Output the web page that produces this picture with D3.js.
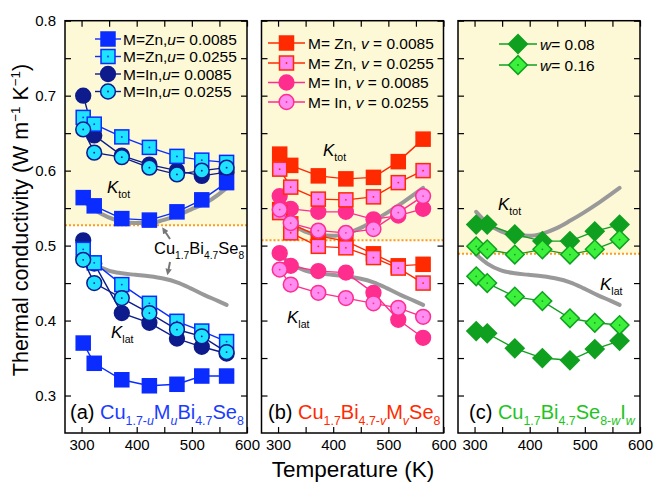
<!DOCTYPE html>
<html>
<head>
<meta charset="utf-8">
<script src="https://cdn.jsdelivr.net/npm/d3@7"></script>
<style>
  body { margin: 0; background: #fff; }
  svg text { font-family: "Liberation Sans", Arial, sans-serif; }
</style>
</head>
<body>
<svg id="chart" width="654" height="482"></svg>
<script>
// temperatures (K)
const T = [303, 323, 373, 423, 473, 518, 563];

// panel (a) Cu1.7-uMuBi4.7Se8
const aZn1Tot = [0.564, 0.553, 0.536, 0.534, 0.545, 0.561, 0.584];
const aZn2Tot = [0.671, 0.662, 0.645, 0.631, 0.619, 0.614, 0.611];
const aIn1Tot = [0.700, 0.647, 0.620, 0.608, 0.600, 0.593, 0.598];
const aIn2Tot = [0.655, 0.624, 0.618, 0.604, 0.595, 0.600, 0.604];
const aZn1Lat = [0.370, 0.343, 0.321, 0.313, 0.315, 0.326, 0.326];
const aZn2Lat = [0.495, 0.477, 0.448, 0.423, 0.399, 0.386, 0.372];
const aIn1Lat = [0.507, 0.476, 0.410, 0.397, 0.376, 0.365, 0.356];
const aIn2Lat = [0.481, 0.450, 0.430, 0.410, 0.388, 0.379, 0.358];

// panel (b) Cu1.7Bi4.7-vMvSe8
const bZn1Tot = [0.622, 0.607, 0.593, 0.589, 0.591, 0.612, 0.642];
const bZn2Tot = [0.602, 0.578, 0.562, 0.561, 0.565, 0.584, 0.600];
const bIn1Tot = [0.566, 0.549, 0.545, 0.545, 0.535, 0.540, 0.549];
const bIn2Tot = [0.548, 0.530, 0.520, 0.517, 0.522, 0.544, 0.566];
const bZn1Lat = [0.548, 0.529, 0.513, 0.506, 0.489, 0.473, 0.475];
const bZn2Lat = [0.544, 0.517, 0.499, 0.497, 0.484, 0.470, 0.450];
const bIn1Lat = [0.490, 0.473, 0.466, 0.464, 0.437, 0.401, 0.377];
const bIn2Lat = [0.468, 0.448, 0.437, 0.430, 0.423, 0.417, 0.405];

// panel (c) Cu1.7Bi4.7Se8-wIw
const cW1Tot = [0.528, 0.528, 0.515, 0.506, 0.506, 0.519, 0.528];
const cW2Tot = [0.499, 0.495, 0.488, 0.495, 0.488, 0.495, 0.508];
const cW1Lat = [0.386, 0.383, 0.363, 0.350, 0.347, 0.362, 0.373];
const cW2Lat = [0.459, 0.450, 0.432, 0.426, 0.403, 0.397, 0.394];

// pristine Cu1.7Bi4.7Se8 reference curves
const refT = [303, 323, 348, 373, 398, 423, 448, 473, 498, 523, 548, 563];
const refTotA = [0.560, 0.548, 0.538, 0.532, 0.530, 0.530, 0.534, 0.540, 0.548, 0.556, 0.568, 0.577];
const refTot = [0.545, 0.530, 0.519, 0.514, 0.513, 0.516, 0.523, 0.533, 0.544, 0.556, 0.569, 0.577];
const refLat = [0.488, 0.476, 0.467, 0.463, 0.461, 0.459, 0.456, 0.451, 0.443, 0.434, 0.426, 0.421];

// horizontal dotted divider per panel
const cutLevels = [0.527, 0.507, 0.489];

const svg = d3.select("#chart");
const plotTop = 20.7, plotBottom = 433, panelW = 182;
const panelX = [65, 261.5, 458];

const y = d3.scaleLinear().domain([0.25, 0.8]).range([plotBottom, plotTop]);
const yTicks = d3.range(0.3, 0.801, 0.05).map(v => +v.toFixed(2));
const xTicks = d3.range(300, 601, 50);

const sty = {
  zn1a: {shape: "sq", fill: "#0a2cff", stroke: "#0a2cff", line: "#0a2cff"},
  zn2a: {shape: "sq", fill: "#1ee2ff", stroke: "#0a2cff", line: "#0a2cff", dot: true},
  in1a: {shape: "ci", fill: "#0d1b8c", stroke: "#0d1b8c", line: "#0d1b8c"},
  in2a: {shape: "ci", fill: "#1ee2ff", stroke: "#0d1b8c", line: "#0d1b8c", dot: true},
  zn1b: {shape: "sq", fill: "#ff2a00", stroke: "#ff2a00", line: "#ff2a00"},
  zn2b: {shape: "sq", fill: "#ff84f4", stroke: "#ff2a00", line: "#ff2a00", dot: true},
  in1b: {shape: "ci", fill: "#ff2d8e", stroke: "#ff2d8e", line: "#ff2d8e"},
  in2b: {shape: "ci", fill: "#ff8cf0", stroke: "#ff2d8e", line: "#ff2d8e", dot: true},
  w1: {shape: "di", fill: "#10a020", stroke: "#10a020", line: "#10a020"},
  w2: {shape: "di", fill: "#3cf03c", stroke: "#10a020", line: "#10a020", dot: true}
};

function marker(g, s, cx, cy) {
  if (s.shape === "sq") {
    g.append("rect").attr("x", cx - 7).attr("y", cy - 7).attr("width", 14).attr("height", 14)
      .attr("fill", s.fill).attr("stroke", s.stroke).attr("stroke-width", 1.5);
  } else if (s.shape === "ci") {
    g.append("circle").attr("cx", cx).attr("cy", cy).attr("r", 7.4)
      .attr("fill", s.fill).attr("stroke", s.stroke).attr("stroke-width", 1.5);
  } else {
    g.append("rect").attr("x", -6.6).attr("y", -6.6).attr("width", 13.2).attr("height", 13.2)
      .attr("transform", `translate(${cx},${cy}) rotate(45)`)
      .attr("fill", s.fill).attr("stroke", s.stroke).attr("stroke-width", 1.5);
  }
  if (s.dot) g.append("circle").attr("cx", cx).attr("cy", cy).attr("r", 0.9).attr("fill", s.stroke);
}

// text with sub/superscripts and italics: parts = [[text, "sub"|"sup"|"i"|"isub"|""], ...]
function rich(g, x, yb, parts, size, color, anchor) {
  const t = g.append("text").attr("x", x).attr("y", yb).attr("font-size", size)
    .attr("fill", color).attr("text-anchor", anchor || "start");
  let shift = 0;
  parts.forEach(([txt, k]) => {
    const ts = t.append("tspan").text(txt);
    let want = 0;
    if (k === "sub" || k === "isub") want = size * 0.3;
    if (k === "sup") want = -size * 0.38;
    ts.attr("dy", want - shift);
    shift = want;
    if (k === "sub" || k === "sup" || k === "isub") ts.attr("font-size", size * 0.62);
    if (k === "i" || k === "isub") ts.attr("font-style", "italic");
  });
  return t;
}

const panels = [
  {
    series: [
      [aIn1Tot, sty.in1a], [aIn1Lat, sty.in1a],
      [aZn1Tot, sty.zn1a], [aZn1Lat, sty.zn1a],
      [aZn2Tot, sty.zn2a], [aZn2Lat, sty.zn2a],
      [aIn2Tot, sty.in2a], [aIn2Lat, sty.in2a]
    ],
    refTot: refTotA,
    legend: {x1: 95, x2: 121, xt: 123, ys: [39, 56.5, 74, 91.5], size: 15.5,
      rows: [
        [sty.zn1a, [["M=Zn,", ""], ["u", "i"], ["= 0.0085", ""]]],
        [sty.zn2a, [["M=Zn,", ""], ["u", "i"], ["= 0.0255", ""]]],
        [sty.in1a, [["M=In,", ""], ["u", "i"], ["= 0.0085", ""]]],
        [sty.in2a, [["M=In,", ""], ["u", "i"], ["= 0.0255", ""]]]
      ]},
    ktot: [107, 193], klat: [111, 338],
    title: {x: 70, color: "#1a3cff", parts: [["Cu", ""], ["1.7-", "sub"], ["u", "isub"], ["M", ""], ["u", "isub"], ["Bi", ""], ["4.7", "sub"], ["Se", ""], ["8", "sub"]]}
  },
  {
    series: [
      [bZn1Tot, sty.zn1b], [bZn1Lat, sty.zn1b],
      [bIn1Tot, sty.in1b], [bIn1Lat, sty.in1b],
      [bZn2Tot, sty.zn2b], [bZn2Lat, sty.zn2b],
      [bIn2Tot, sty.in2b], [bIn2Lat, sty.in2b]
    ],
    refTot: refTot,
    legend: {x1: 268, x2: 305, xt: 308, ys: [43, 63, 82.5, 102], size: 15.5,
      rows: [
        [sty.zn1b, [["M= Zn, ", ""], ["v", "i"], [" = 0.0085", ""]]],
        [sty.zn2b, [["M= Zn, ", ""], ["v", "i"], [" = 0.0255", ""]]],
        [sty.in1b, [["M= In, ", ""], ["v", "i"], [" = 0.0085", ""]]],
        [sty.in2b, [["M= In, ", ""], ["v", "i"], [" = 0.0255", ""]]]
      ]},
    ktot: [323, 156], klat: [287, 323],
    title: {x: 268, color: "#ff2a00", parts: [["Cu", ""], ["1.7", "sub"], ["Bi", ""], ["4.7-", "sub"], ["v", "isub"], ["M", ""], ["v", "isub"], ["Se", ""], ["8", "sub"]]}
  },
  {
    series: [
      [cW1Tot, sty.w1], [cW1Lat, sty.w1],
      [cW2Tot, sty.w2], [cW2Lat, sty.w2]
    ],
    refTot: refTot,
    legend: {x1: 499, x2: 537, xt: 540, ys: [44, 65], size: 15.5,
      rows: [
        [sty.w1, [["w", "i"], ["= 0.08", ""]]],
        [sty.w2, [["w", "i"], ["= 0.16", ""]]]
      ]},
    ktot: [498, 210], klat: [600, 290],
    title: {x: 469, color: "#22c422", parts: [["Cu", ""], ["1.7", "sub"], ["Bi", ""], ["4.7", "sub"], ["Se", ""], ["8-", "sub"], ["w", "isub"], ["I", ""], ["w", "isub"]]}
  }
];

panels.forEach((p, i) => {
  const x0 = panelX[i];
  const x = d3.scaleLinear().domain([270, 600]).range([x0, x0 + panelW]);
  const g = svg.append("g");
  const cut = y(cutLevels[i]);

  // shaded region above the divider
  g.append("rect").attr("x", x0).attr("y", plotTop).attr("width", panelW).attr("height", cut - plotTop)
    .attr("fill", "#fdf8d6");
  g.append("line").attr("x1", x0).attr("x2", x0 + panelW).attr("y1", cut).attr("y2", cut)
    .attr("stroke", "#ff9a1a").attr("stroke-width", 2).attr("stroke-dasharray", "2,2");

  // axes with inward ticks
  const ax = (gen, tx, ty) => g.append("g").attr("transform", `translate(${tx},${ty})`).call(gen)
    .call(s => s.select(".domain").remove())
    .call(s => s.selectAll("line").attr("stroke", "#000").attr("stroke-width", 1.2))
    .call(s => s.selectAll("text").attr("font-size", 15).attr("fill", "#000")
      .attr("font-family", "Liberation Sans, Arial, sans-serif"));
  ax(d3.axisBottom(x).tickValues(xTicks).tickSize(-6).tickPadding(6)
    .tickFormat(d => d % 100 === 0 ? d : ""), 0, plotBottom);
  ax(d3.axisTop(x).tickValues(xTicks).tickSize(-6).tickFormat(""), 0, plotTop);
  ax(d3.axisLeft(y).tickValues(yTicks).tickSize(-6).tickPadding(9)
    .tickFormat(d => i === 0 && Math.round(d * 100) % 10 === 0 ? d.toFixed(1) : ""), x0, 0);
  ax(d3.axisRight(y).tickValues(yTicks).tickSize(-6).tickFormat(""), x0 + panelW, 0);

  // reference curves
  const line = d3.line().curve(d3.curveMonotoneX);
  [p.refTot, refLat].forEach(arr => {
    g.append("path").attr("d", line(refT.map((t, k) => [x(t), y(arr[k])])))
      .attr("fill", "none").attr("stroke", "#999").attr("stroke-width", 4).attr("stroke-linecap", "round");
  });

  // data series
  p.series.forEach(([vals, s]) => {
    g.append("path").attr("d", d3.line()(T.map((t, k) => [x(t), y(vals[k])])))
      .attr("fill", "none").attr("stroke", s.line).attr("stroke-width", 1.4);
    T.forEach((t, k) => marker(g, s, x(t), y(vals[k])));
  });

  // legend
  const L = p.legend;
  L.rows.forEach(([s, parts], r) => {
    const yy = L.ys[r];
    g.append("line").attr("x1", L.x1).attr("x2", L.x2).attr("y1", yy).attr("y2", yy)
      .attr("stroke", s.line).attr("stroke-width", 1.4);
    marker(g, s, (L.x1 + L.x2) / 2, yy);
    rich(g, L.xt, yy + 5.5, parts, L.size, "#000");
  });

  // kappa labels
  rich(g, p.ktot[0], p.ktot[1], [["K", "i"], ["tot", "sub"]], 17, "#000");
  rich(g, p.klat[0], p.klat[1], [["K", "i"], ["lat", "sub"]], 17, "#000");

  // panel title
  const tt = rich(g, p.title.x, 419, [["(" + "abc"[i] + ") ", ""]].concat(p.title.parts), 20, p.title.color);
  tt.select("tspan").attr("fill", "#000");

  // frame
  g.append("rect").attr("x", x0).attr("y", plotTop).attr("width", panelW).attr("height", plotBottom - plotTop)
    .attr("fill", "none").attr("stroke", "#000").attr("stroke-width", 1.5);
});

// pristine label and arrows in panel (a)
const ann = svg.append("g");
rich(ann, 154, 254, [["Cu", ""], ["1.7", "sub"], ["Bi", ""], ["4.7", "sub"], ["Se", ""], ["8", "sub"]], 16.5, "#000");
svg.append("defs").append("marker").attr("id", "ah").attr("viewBox", "0 0 10 10")
  .attr("refX", 5).attr("refY", 5).attr("markerWidth", 3.2).attr("markerHeight", 3.2).attr("orient", "auto")
  .append("path").attr("d", "M0,0 L10,5 L0,10 z").attr("fill", "#777");
ann.append("line").attr("x1", 170).attr("y1", 239).attr("x2", 164).attr("y2", 230)
  .attr("stroke", "#777").attr("stroke-width", 2).attr("marker-end", "url(#ah)");
ann.append("line").attr("x1", 170).attr("y1", 262).attr("x2", 168).attr("y2", 272)
  .attr("stroke", "#777").attr("stroke-width", 2).attr("marker-end", "url(#ah)");

// axis titles
rich(svg, 353, 477, [["Temperature (K)", ""]], 22.5, "#000", "middle");
rich(svg.append("g").attr("transform", "translate(28,220) rotate(-90)"), 0, 0,
  [["Thermal conductivity (W m", ""], ["\u22121", "sup"], [" K", ""], ["\u22121", "sup"], [")", ""]], 21.5, "#000", "middle");
</script>
</body>
</html>
